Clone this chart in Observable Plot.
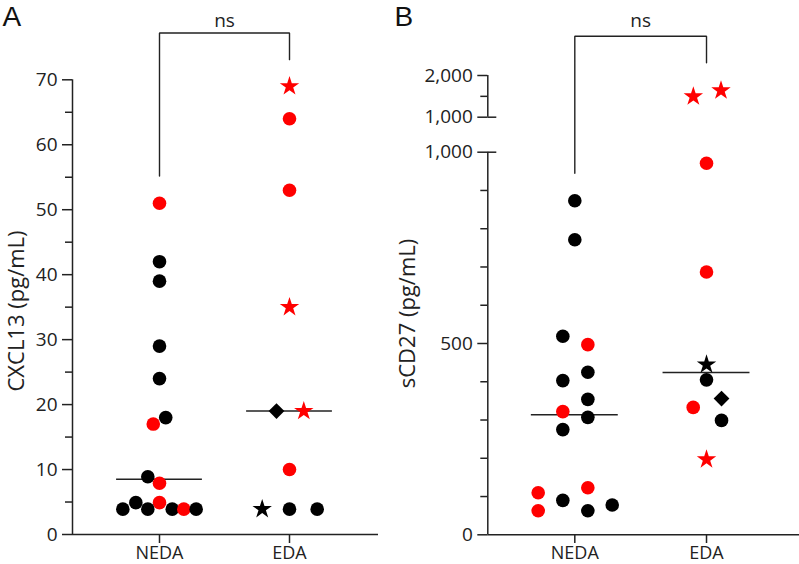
<!DOCTYPE html>
<html>
<head>
<meta charset="utf-8">
<script src="https://cdn.jsdelivr.net/npm/d3@7"></script>
<script src="https://cdn.jsdelivr.net/npm/@observablehq/plot@0.6"></script>
<style>
  html, body { margin: 0; padding: 0; background: #fff; }
  #wrap { display: flex; width: 799px; height: 564px; overflow: hidden; }
  #wrap svg { overflow: visible; }
</style>
</head>
<body>
<div id="wrap"></div>
<script>
// ---------- data ----------
const groups = ["NEDA", "EDA"];
const significance = "ns";

// Panel A: CXCL13 (pg/mL)
const cxclGroup  = [1, 1, 1, 1, 1, 1, 1, 1, 1, 1, 1, 1, 1, 1, 1, 1,   2, 2, 2, 2, 2, 2, 2, 2, 2, 2];
const cxclValue  = [51, 42, 39, 29, 24, 18, 17, 8.9, 7.9, 4.9, 4.9, 3.9, 3.9, 3.9, 3.9, 3.9,   69, 64, 53, 35, 19, 19, 10, 3.9, 3.9, 3.9];
const cxclOffset = [0, 0, 0, 0, 0, 0.048, -0.048, -0.09, 0, 0, -0.182, -0.282, -0.09, 0.098, 0.187, 0.282,   0, 0, 0, 0, -0.10, 0.11, 0, -0.21, 0, 0.213];
const cxclColour = ["red", "black", "black", "black", "black", "black", "red", "black", "red", "red", "black", "black", "black", "black", "red", "black",
                    "red", "red", "red", "red", "black", "red", "red", "black", "black", "black"];
const cxclMarker = ["circle", "circle", "circle", "circle", "circle", "circle", "circle", "circle", "circle", "circle", "circle", "circle", "circle", "circle", "circle", "circle",
                    "star", "circle", "circle", "star", "diamond", "star", "circle", "star", "circle", "circle"];
const cxclMedian = [8.5, 19];
const cxclBracket = [55.2, 77.2, 73.1];   // left leg end, top, right leg end
const cxclSigY = 79.1;
const cxclMajorTicks = [0, 10, 20, 30, 40, 50, 60, 70];
const cxclMinorTicks = [5, 15, 25, 35, 45, 55, 65];

// Panel B: sCD27 (pg/mL), broken axis 0–1,000 | 1,000–2,000
const cd27Group  = [1, 1, 1, 1, 1, 1, 1, 1, 1, 1, 1, 1, 1, 1, 1, 1,   2, 2, 2, 2, 2, 2, 2, 2, 2, 2];
const cd27Value  = [873, 771, 519, 497, 425, 403, 354, 322, 307, 275, 123, 110, 90, 78, 63, 63,   1496, 1640, 971, 687, 445, 405, 356, 333, 299, 197];
const cd27Offset = [0, 0, -0.091, 0.099, 0.099, -0.091, 0.099, -0.091, 0.099, -0.091, 0.099, -0.278, -0.091, 0.284, -0.278, 0.099,
                    -0.10, 0.11, 0, 0, 0, 0, 0.114, -0.101, 0.114, 0];
const cd27Colour = ["black", "black", "black", "red", "black", "black", "black", "red", "black", "black", "red", "red", "black", "black", "red", "black",
                    "red", "red", "red", "red", "black", "black", "black", "red", "black", "red"];
const cd27Marker = ["circle", "circle", "circle", "circle", "circle", "circle", "circle", "circle", "circle", "circle", "circle", "circle", "circle", "circle", "circle", "circle",
                    "star", "star", "circle", "circle", "star", "circle", "diamond", "circle", "circle", "star"];
const cd27Median = [314, 424];
const cd27Bracket = [945, 2942, 2305];
const cd27SigY = 3307;
const cd27MajorTicks = [0, 500, 1000, 1000.001, 2000];
const cd27MinorTicks = [100, 200, 300, 400, 600, 700, 800, 900, 1500];
const cd27BreakTicks = [1000, 1000.001];
const cd27AxisSegments = [[0, 1000], [1000.001, 2000]];

// ---------- styling ----------
const FONT = "'Open Sans', 'Noto Sans', sans-serif";
const LETTER_FONT = "'Liberation Sans', Arial, sans-serif";
const INK = "#222";
const RED = "#dc0000";
const SYM = {circle: "circle", star: "star", diamond: "diamond2"};
const SIZE = {circle: 6.8, star: 6.1, diamond: 7.1};

function panel(cfg) {
  const data = cfg.values.map((v, i) => ({g: cfg.groups[i], v, off: cfg.offsets[i], c: cfg.colours[i], m: cfg.markers[i]}));
  const med = cfg.medians.map((v, i) => ({g: i + 1, v}));
  const b = cfg.bracket;
  const bracketPts = [{x: 1, y: b[0]}, {x: 1, y: b[1]}, {x: 2, y: b[1]}, {x: 2, y: b[2]}];
  const dots = (m) => Plot.dot(data.filter(d => d.m === m), {
    x: d => d.g + d.off, y: "v", fill: "c", r: SIZE[m], symbol: SYM[m]
  });
  const axisStyle = {stroke: INK, strokeWidth: 1.5};
  return Plot.plot({
    width: cfg.width, height: 564,
    marginLeft: cfg.marginLeft, marginRight: cfg.marginRight,
    marginTop: cfg.marginTop, marginBottom: 30,
    style: {fontFamily: FONT, fontSize: "19px", color: INK, background: "transparent", overflow: "visible"},
    x: {type: "linear", domain: cfg.xDomain, axis: null},
    y: {type: "linear", domain: cfg.yDomain, range: cfg.yRange, axis: null},
    color: {type: "ordinal", domain: ["red", "black"], range: [RED, "#000"]},
    marks: [
      Plot.ruleY([0], {...axisStyle}),
      Plot.ruleX(cfg.segments, {x: cfg.xDomain[0], y1: d => d[0], y2: d => d[1], ...axisStyle}),
      Plot.axisY(cfg.major, {tickSize: 10, tickPadding: 5, tickFormat: cfg.tickFormat, fontSize: 19, label: null, ...axisStyle}),
      Plot.axisY(cfg.minor, {tickSize: 7, fill: "none", label: null, ...axisStyle}),
      ...(cfg.cross ? [Plot.axisY(cfg.cross, {tickSize: -9, fill: "none", label: null, ...axisStyle})] : []),
      Plot.axisY([], {tickSize: 0, label: cfg.label, labelAnchor: "center", labelArrow: "none", labelOffset: cfg.labelOffset, fontSize: 22}),
      Plot.axisX([1, 2], {tickSize: 9, tickPadding: 2.5, tickFormat: d => groups[d - 1], fontSize: 18, label: null, ...axisStyle}),
      Plot.ruleY(med, {y: "v", x1: d => d.g - 0.33, x2: d => d.g + 0.33, ...axisStyle}),
      Plot.line(bracketPts, {x: "x", y: "y", stroke: INK, strokeWidth: 1.4, strokeLinejoin: "miter"}),
      Plot.text([significance], {x: 1.5, y: cfg.sigY, text: d => d, fontSize: 19, fill: INK}),
      Plot.text([cfg.letter], {frameAnchor: "top-left", dx: cfg.letterDx, dy: 5.5 - cfg.marginTop, lineAnchor: "top", textAnchor: "start", fontSize: 28, fontFamily: LETTER_FONT, fill: "#111"}),
      dots("circle"), dots("diamond"), dots("star")
    ]
  });
}

const fmt = d3.format(",");
const wrap = document.getElementById("wrap");

wrap.append(panel({
  width: 393, marginLeft: 72, marginRight: 15, marginTop: 87,
  xDomain: [0.3308, 2.6846],
  yDomain: [0, 70], yRange: [534, 79.3],
  values: cxclValue, groups: cxclGroup, offsets: cxclOffset, colours: cxclColour, markers: cxclMarker,
  medians: cxclMedian, bracket: cxclBracket, sigY: cxclSigY,
  major: cxclMajorTicks, minor: cxclMinorTicks, cross: null,
  segments: [[0, 70]],
  tickFormat: d => fmt(Math.round(d)),
  label: "CXCL13 (pg/mL)", labelOffset: 64.5,
  letter: "A", letterDx: -70
}));

wrap.append(panel({
  width: 406, marginLeft: 94.3, marginRight: 0, marginTop: 92,
  xDomain: [0.3394, 2.706],
  yDomain: [0, 1000, 1000.001, 2000], yRange: [534.3, 151.7, 116.7, 75],
  values: cd27Value, groups: cd27Group, offsets: cd27Offset, colours: cd27Colour, markers: cd27Marker,
  medians: cd27Median, bracket: cd27Bracket, sigY: cd27SigY,
  major: cd27MajorTicks, minor: cd27MinorTicks, cross: cd27BreakTicks,
  segments: cd27AxisSegments,
  tickFormat: d => fmt(Math.round(d)),
  label: "sCD27 (pg/mL)", labelOffset: 88,
  letter: "B", letterDx: -93.3
}));
</script>
</body>
</html>
